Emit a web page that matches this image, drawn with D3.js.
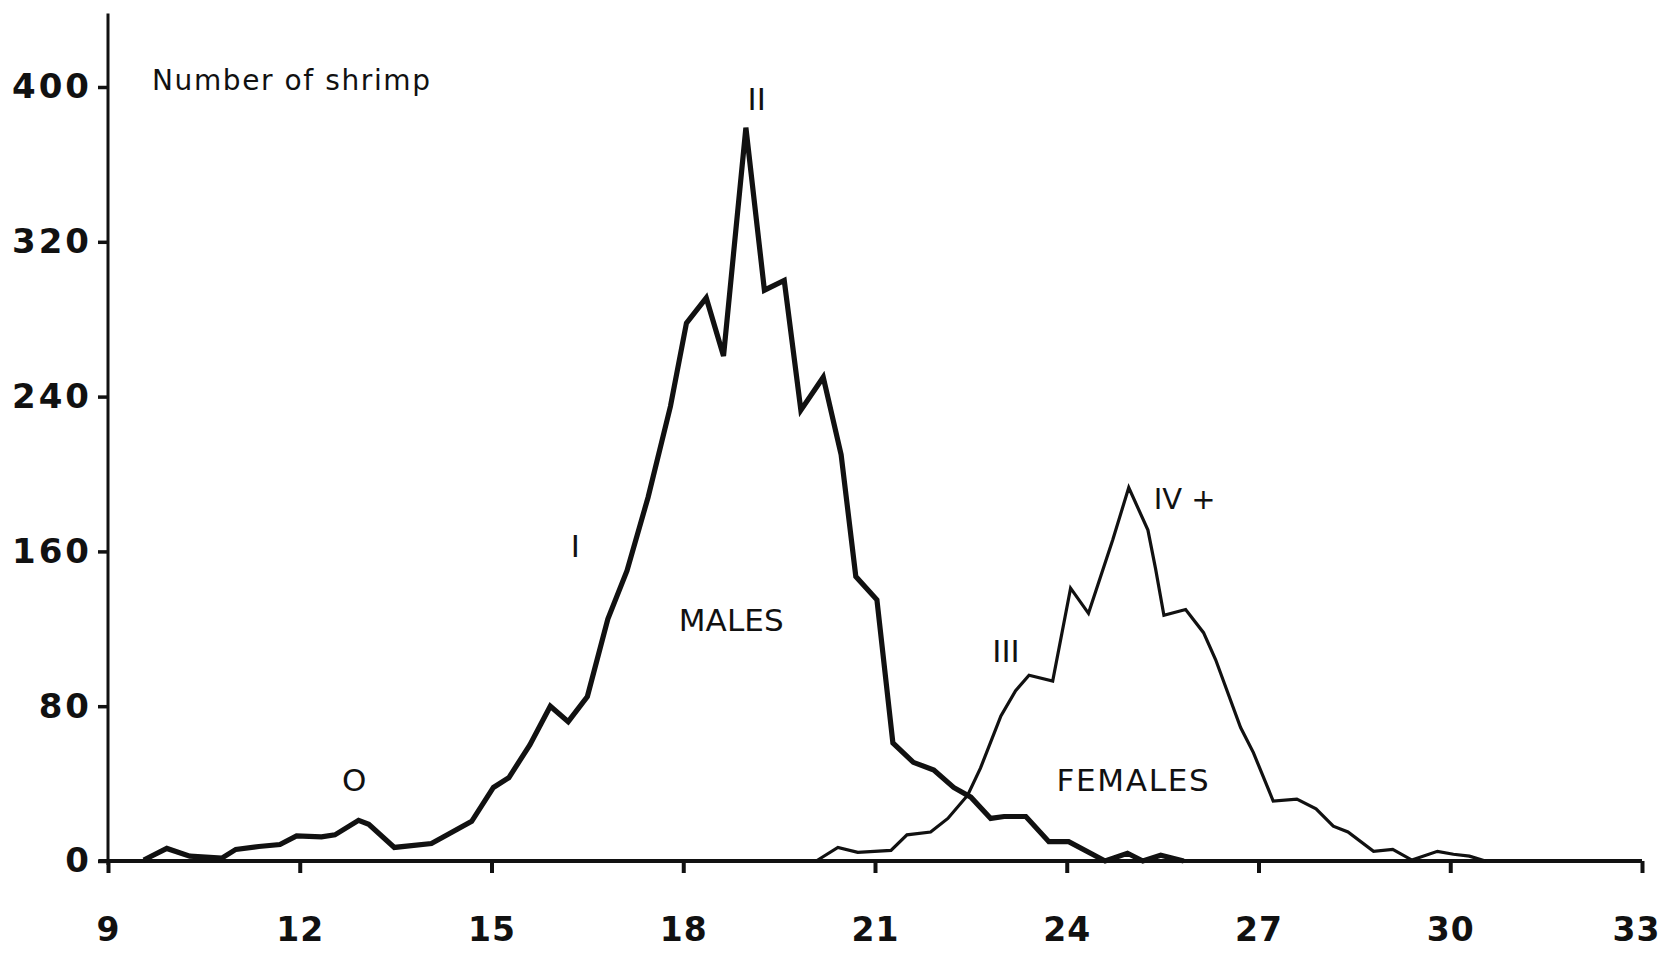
<!DOCTYPE html>
<html>
<head>
<meta charset="utf-8">
<script src="https://cdn.jsdelivr.net/npm/d3@7"></script>
<style>
  html, body { margin: 0; padding: 0; background: #fff; }
  svg { display: block; }
</style>
</head>
<body>
<script>
// ---- data (carapace length vs number of shrimp) ----
const xTicks = [9, 12, 15, 18, 21, 24, 27, 30, 33];
const yTicks = [0, 80, 160, 240, 320, 400];

const maleLength = [9.56, 9.92, 10.28, 10.78, 11.0, 11.36, 11.69, 11.95, 12.34, 12.55, 12.92, 13.08, 13.48, 14.06, 14.33, 14.69, 15.03, 15.27, 15.6, 15.92, 16.2, 16.5, 16.82, 17.12, 17.45, 17.8, 18.05, 18.36, 18.63, 18.98, 19.27, 19.58, 19.84, 20.19, 20.47, 20.7, 21.03, 21.28, 21.6, 21.92, 22.23, 22.5, 22.81, 23.02, 23.36, 23.72, 24.03, 24.6, 24.95, 25.19, 25.47, 25.83];
const maleCount  = [0.5, 6.5, 2.5, 1.5, 6, 7.5, 8.5, 13, 12.5, 13.5, 21, 19, 7, 9, 14, 20.5, 38, 43, 60, 80, 72, 85, 125, 150, 188, 235, 278, 291, 261, 379, 295, 300, 233, 250, 210, 147, 135, 61, 51, 47, 38, 33, 22, 23, 23, 10, 10, 0, 4, 0, 3, 0];

const femaleLength = [20.08, 20.42, 20.73, 21.25, 21.5, 21.87, 22.14, 22.45, 22.65, 22.97, 23.2, 23.41, 23.78, 24.06, 24.34, 24.72, 24.97, 25.27, 25.39, 25.52, 25.86, 26.14, 26.33, 26.72, 26.92, 27.23, 27.6, 27.9, 28.17, 28.4, 28.8, 29.1, 29.4, 29.8, 30.05, 30.3, 30.55];
const femaleCount  = [0, 7, 4.5, 5.5, 13.5, 15, 22, 34, 48, 75, 88, 96, 93, 141, 128, 166, 193, 171, 151, 127, 130, 118, 104, 69, 56, 31, 32, 27, 18, 15, 5, 6, 0.5, 5, 3.5, 2.5, 0];

const labels = [
  {text: "O", x: 12.85, y: 36, anchor: "middle", len: null},
  {text: "I", x: 16.31, y: 157, anchor: "middle", len: null},
  {text: "II", x: 19.15, y: 388, anchor: "middle", len: null},
  {text: "III", x: 23.05, y: 103, anchor: "middle", len: null},
  {text: "IV +", x: 25.36, y: 182, anchor: "start", len: null},
  {text: "MALES", x: 18.75, y: 119, anchor: "middle", len: 105},
  {text: "FEMALES", x: 25.03, y: 36, anchor: "middle", len: 152}
];

// ---- layout ----
const W = 1666, H = 955;
const svg = d3.select("body").append("svg").attr("width", W).attr("height", H);

const x = d3.scaleLinear().domain([9, 33]).range([108, 1642]);
const y = d3.scaleLinear().domain([0, 400]).range([861, 87]);

const tickFont = "'DejaVu Sans', sans-serif";

// y axis
const yAxis = svg.append("g")
  .attr("transform", `translate(${x(9)},0)`)
  .call(d3.axisLeft(y).tickValues(yTicks).tickSize(10).tickSizeOuter(0).tickPadding(6));
yAxis.select(".domain").remove();
yAxis.selectAll(".tick line").attr("stroke", "#111").attr("stroke-width", 3.5);
yAxis.selectAll(".tick text")
  .attr("font-family", tickFont).attr("font-weight", "bold")
  .attr("font-size", 34).attr("letter-spacing", 3).attr("fill", "#111");
svg.append("line")
  .attr("x1", x(9)).attr("x2", x(9))
  .attr("y1", y(0) + 4).attr("y2", y(438))
  .attr("stroke", "#111").attr("stroke-width", 3);

// x axis
const xAxis = svg.append("g")
  .attr("transform", `translate(0,${y(0)})`)
  .call(d3.axisBottom(x).tickValues(xTicks).tickFormat(d3.format("d")).tickSize(12).tickSizeOuter(0).tickPadding(45));
xAxis.select(".domain").remove();
xAxis.selectAll(".tick line").attr("stroke", "#111").attr("stroke-width", 4);
xAxis.selectAll(".tick text")
  .attr("font-family", tickFont).attr("font-weight", "bold")
  .attr("font-size", 33).attr("letter-spacing", 1).attr("fill", "#111")
  .attr("dx", d => d === 33 ? -6 : 0);
svg.append("line")
  .attr("x1", x(8.85)).attr("x2", x(33))
  .attr("y1", y(0)).attr("y2", y(0))
  .attr("stroke", "#111").attr("stroke-width", 4);

// series
const line = d3.line().x(d => x(d[0])).y(d => y(d[1]));
const males = maleLength.map((v, i) => [v, maleCount[i]]);
const females = femaleLength.map((v, i) => [v, femaleCount[i]]);

svg.append("path").datum(females)
  .attr("d", line).attr("fill", "none")
  .attr("stroke", "#111").attr("stroke-width", 3.2)
  .attr("stroke-linejoin", "miter");

svg.append("path").datum(males)
  .attr("d", line).attr("fill", "none")
  .attr("stroke", "#111").attr("stroke-width", 5.2)
  .attr("stroke-linejoin", "miter");

// y-axis title
svg.append("text")
  .attr("x", 152).attr("y", 90)
  .attr("font-family", "'DejaVu Sans', sans-serif")
  .attr("font-size", 28).attr("fill", "#111")
  .attr("textLength", 278).attr("lengthAdjust", "spacing")
  .text("Number of shrimp");

// annotations
svg.selectAll("text.ann").data(labels).enter().append("text")
  .attr("class", "ann")
  .attr("x", d => x(d.x)).attr("y", d => y(d.y))
  .attr("text-anchor", d => d.anchor)
  .attr("font-family", "'DejaVu Sans', sans-serif")
  .attr("font-size", d => d.text === "IV +" ? 29 : 31).attr("fill", "#111")
  .each(function(d) { if (d.len) d3.select(this).attr("textLength", d.len).attr("lengthAdjust", "spacing"); })
  .text(d => d.text);
</script>
</body>
</html>
